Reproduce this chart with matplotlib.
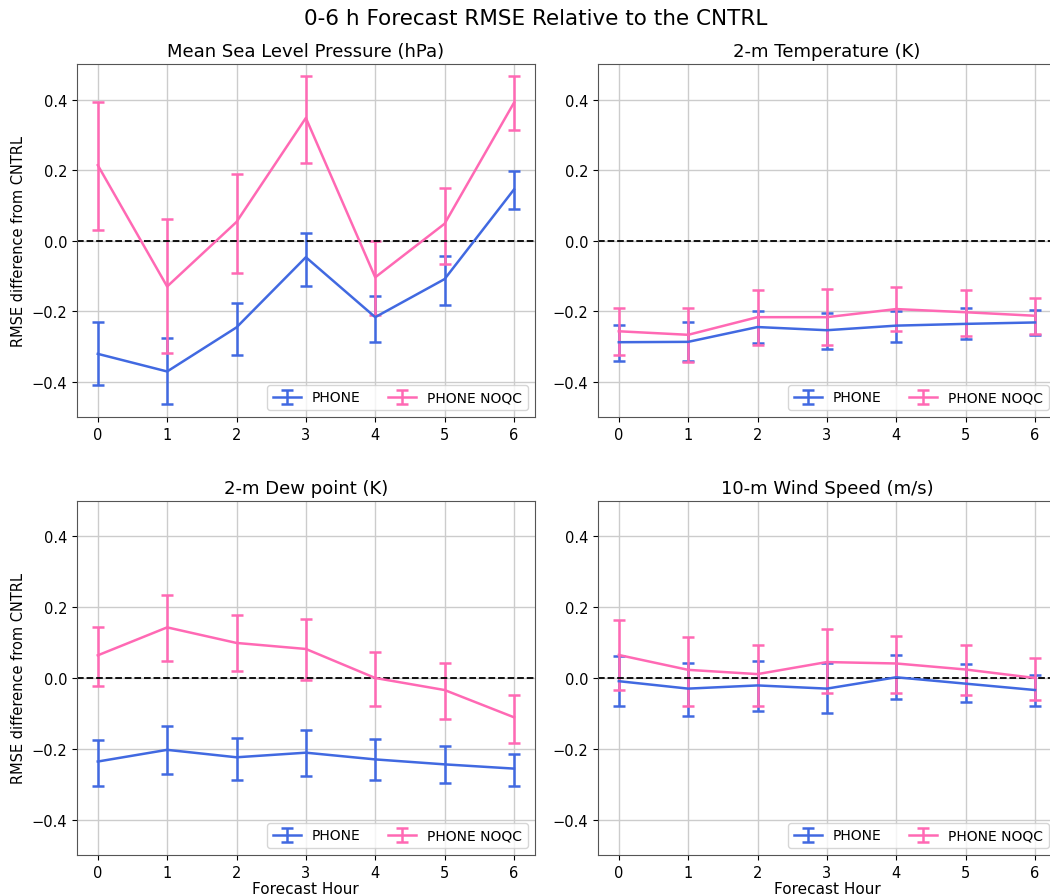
import numpy as np
import matplotlib
matplotlib.use('Agg')
import matplotlib.pyplot as plt

# forecast hours
hours = [0, 1, 2, 3, 4, 5, 6]

titles = ['Mean Sea Level Pressure (hPa)', '2-m Temperature (K)',
          '2-m Dew point (K)', '10-m Wind Speed (m/s)']

# mean RMSE difference, plus lower/upper end of the error bars
# --- mean sea level pressure
mslp_phone = [-0.321, -0.371, -0.246, -0.047, -0.217, -0.109, 0.145]
mslp_phone_lo = [-0.409, -0.463, -0.324, -0.130, -0.287, -0.182, 0.091]
mslp_phone_hi = [-0.231, -0.277, -0.178, 0.021, -0.156, -0.044, 0.197]
mslp_noqc = [0.214, -0.130, 0.053, 0.348, -0.104, 0.048, 0.391]
mslp_noqc_lo = [0.029, -0.319, -0.092, 0.220, -0.210, -0.066, 0.313]
mslp_noqc_hi = [0.392, 0.060, 0.190, 0.466, 0.000, 0.148, 0.466]
# --- 2-m temperature
t2_phone = [-0.288, -0.287, -0.245, -0.254, -0.241, -0.236, -0.232]
t2_phone_lo = [-0.340, -0.342, -0.291, -0.307, -0.288, -0.279, -0.267]
t2_phone_hi = [-0.240, -0.232, -0.199, -0.206, -0.200, -0.192, -0.196]
t2_noqc = [-0.257, -0.267, -0.217, -0.217, -0.194, -0.203, -0.213]
t2_noqc_lo = [-0.325, -0.345, -0.295, -0.295, -0.255, -0.269, -0.264]
t2_noqc_hi = [-0.192, -0.190, -0.139, -0.137, -0.131, -0.141, -0.164]
# --- 2-m dew point
td_phone = [-0.236, -0.203, -0.224, -0.211, -0.230, -0.244, -0.256]
td_phone_lo = [-0.306, -0.270, -0.287, -0.278, -0.289, -0.298, -0.304]
td_phone_hi = [-0.174, -0.135, -0.169, -0.148, -0.171, -0.192, -0.214]
td_noqc = [0.064, 0.143, 0.099, 0.082, 0.000, -0.034, -0.111]
td_noqc_lo = [-0.024, 0.047, 0.019, -0.005, -0.078, -0.115, -0.183]
td_noqc_hi = [0.145, 0.234, 0.177, 0.168, 0.074, 0.042, -0.047]
# --- 10-m wind speed
ws_phone = [-0.009, -0.030, -0.021, -0.030, 0.002, -0.016, -0.034]
ws_phone_lo = [-0.078, -0.108, -0.093, -0.100, -0.060, -0.069, -0.078]
ws_phone_hi = [0.061, 0.042, 0.048, 0.041, 0.065, 0.040, 0.009]
ws_noqc = [0.065, 0.023, 0.011, 0.045, 0.041, 0.024, 0.000]
ws_noqc_lo = [-0.033, -0.078, -0.078, -0.043, -0.041, -0.047, -0.061]
ws_noqc_hi = [0.165, 0.116, 0.094, 0.139, 0.118, 0.094, 0.057]

panels = [
    (mslp_phone, mslp_phone_lo, mslp_phone_hi, mslp_noqc, mslp_noqc_lo, mslp_noqc_hi),
    (t2_phone, t2_phone_lo, t2_phone_hi, t2_noqc, t2_noqc_lo, t2_noqc_hi),
    (td_phone, td_phone_lo, td_phone_hi, td_noqc, td_noqc_lo, td_noqc_hi),
    (ws_phone, ws_phone_lo, ws_phone_hi, ws_noqc, ws_noqc_lo, ws_noqc_hi),
]

blue = '#4169e1'
pink = '#ff69b4'

fig = plt.figure(figsize=(10.5, 8.95), dpi=100)
fig.suptitle('0-6 h Forecast RMSE Relative to the CNTRL', fontsize=15.5, x=0.51, y=0.99)

# axes boxes [left, bottom, width, height]; right column runs past the edge like the original crop
boxes = [[0.0733, 0.533, 0.436, 0.394], [0.5695, 0.533, 0.436, 0.394],
         [0.0733, 0.0436, 0.436, 0.3955], [0.5695, 0.0436, 0.436, 0.3955]]

for k in range(4):
    ax = fig.add_axes(boxes[k])
    ph, ph_lo, ph_hi, nq, nq_lo, nq_hi = [np.array(a) for a in panels[k]]
    ax.errorbar(hours, ph, yerr=[ph - ph_lo, ph_hi - ph], color=blue, lw=1.8,
                capsize=4, capthick=1.8, label='PHONE')
    ax.errorbar(hours, nq, yerr=[nq - nq_lo, nq_hi - nq], color=pink, lw=1.8,
                capsize=4, capthick=1.8, label='PHONE NOQC')
    ax.axhline(0, color='k', ls='--', lw=1.3)
    ax.set_ylim(-0.5, 0.5)
    ax.set_xlim(-0.3, 6.3)
    ax.set_xticks(hours)
    ax.set_yticks([-0.4, -0.2, 0.0, 0.2, 0.4])
    ax.grid(True, color='#cccccc', lw=1.0)
    ax.set_axisbelow(True)
    ax.tick_params(labelsize=10.5)
    for s in ax.spines.values():
        s.set_color('#555555')
    ax.set_title(titles[k], fontsize=13)
    if k % 2 == 0:
        ax.set_ylabel('RMSE difference from CNTRL', fontsize=10.5)
    if k >= 2:
        ax.set_xlabel('Forecast Hour', fontsize=11, labelpad=1)
    ax.legend(loc='lower right', ncol=2, fontsize=10)

plt.savefig('out.png', dpi=100)
